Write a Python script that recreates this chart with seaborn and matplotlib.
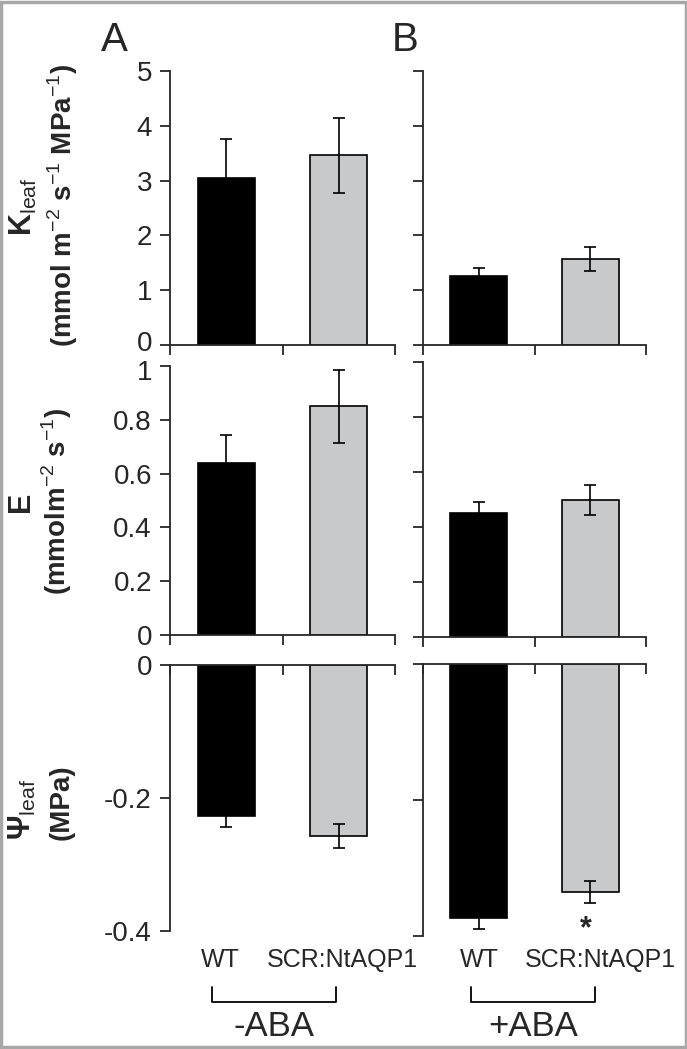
import matplotlib
matplotlib.use("Agg")
import matplotlib.pyplot as plt
import matplotlib.transforms as mtransforms
from matplotlib.patches import Rectangle
from matplotlib.lines import Line2D
import seaborn as sns

# --- data (means and error bars) ---
genotypes = ["WT", "SCR:NtAQP1"]

kleaf_noaba = [3.05, 3.46]
kleaf_noaba_err = [0.70, 0.68]
kleaf_aba = [1.26, 1.57]
kleaf_aba_err = [0.14, 0.22]

e_noaba = [0.638, 0.850]
e_noaba_err = [0.104, 0.135]
e_aba = [0.452, 0.499]
e_aba_err = [0.038, 0.054]

psi_noaba = [-0.227, -0.257]
psi_noaba_err = [0.017, 0.018]
psi_aba = [-0.373, -0.335]
psi_aba_err = [0.016, 0.016]

kleaf_ticks = [0, 1, 2, 3, 4, 5]
e_ticks = [0, 0.2, 0.4, 0.6, 0.8, 1]
psi_ticks = [0, -0.2, -0.4]

BAR_COLORS = ["#000000", "#c8c9cb"]
W, H = 687, 1049

sns.set_style("ticks")
plt.rcParams["font.family"] = ["Liberation Sans", "DejaVu Sans"]
plt.rcParams["mathtext.fontset"] = "custom"
plt.rcParams["mathtext.rm"] = "Liberation Sans"
plt.rcParams["mathtext.bf"] = "Liberation Sans:bold"
plt.rcParams["axes.unicode_minus"] = False


def px_rect(x0, y0, x1, y1):
    return [x0 / W, 1 - y1 / H, (x1 - x0) / W, (y1 - y0) / H]


def draw_panel(ax, vals, errs, ticks, ylim, show_labels, negative=False):
    sns.barplot(x=genotypes, y=vals, hue=genotypes, palette=BAR_COLORS,
                width=0.51, edgecolor="black", linewidth=1.2,
                errorbar=None, legend=False, ax=ax, zorder=2)
    ax.errorbar(range(len(vals)), vals, yerr=errs, fmt="none", ecolor="black",
                elinewidth=1.2, capsize=4.3, capthick=1.2, zorder=3)
    ax.set_xlim(-0.5, 1.5)
    ax.set_ylim(*ylim)
    ax.set_yticks(ticks)
    ax.set_yticklabels([f"{t:g}" for t in ticks] if show_labels else [])
    ax.set_xticks([-0.5, 0.5, 1.5])
    ax.set_xticklabels([])
    ax.set_xlabel("")
    ax.set_ylabel("")
    for s in ax.spines.values():
        s.set_linewidth(1.3)
    ax.spines["right"].set_visible(False)
    if negative:
        ax.spines["bottom"].set_visible(False)
        ax.xaxis.tick_top()
        ax.tick_params(axis="x", direction="in", length=7, width=1.3)
    else:
        ax.spines["top"].set_visible(False)
        ax.tick_params(axis="x", direction="out", length=7, width=1.3)
    ax.tick_params(axis="y", direction="out", length=7, width=1.3,
                   labelsize=20, pad=6)


fig = plt.figure(figsize=(W / 100, H / 100), dpi=100)

rows = [
    (kleaf_noaba, kleaf_noaba_err, kleaf_aba, kleaf_aba_err, kleaf_ticks, (0, 5), False,
     (71, 345), (71, 345)),
    (e_noaba, e_noaba_err, e_aba, e_aba_err, e_ticks, (0, 1), False,
     (366, 635), (362, 637)),
    (psi_noaba, psi_noaba_err, psi_aba, psi_aba_err, psi_ticks, (-0.4, 0), True,
     (665, 931), (664, 936)),
]

axes = []
for left_v, left_e, right_v, right_e, ticks, ylim, neg, ly, ry in rows:
    axl = fig.add_axes(px_rect(170, ly[0], 395, ly[1]))
    draw_panel(axl, left_v, left_e, ticks, ylim, True, neg)
    axr = fig.add_axes(px_rect(423, ry[0], 646, ry[1]))
    draw_panel(axr, right_v, right_e, ticks, ylim, False, neg)
    axes.append((axl, axr))

# nudge the "0" of the top row and the "1" of the middle row apart a little
up = mtransforms.ScaledTranslation(0, 4 / 100, fig.dpi_scale_trans)
down = mtransforms.ScaledTranslation(0, -4 / 100, fig.dpi_scale_trans)
lbl0 = axes[0][0].get_yticklabels()[0]
lbl0.set_transform(lbl0.get_transform() + up)
lbl1 = axes[1][0].get_yticklabels()[-1]
lbl1.set_transform(lbl1.get_transform() + down)

# significance mark
axes[2][1].text(0.96, -0.39, "*", ha="center", va="center",
                fontsize=22, fontweight="bold")

# y axis titles (two rotated lines each)
lab = dict(rotation=90, ha="center", va="center", fontweight="bold")
fig.text(23 / W, 1 - 207 / H, r"K$_{\mathrm{leaf}}$", fontsize=22, **lab)
fig.text(63 / W, 1 - 205 / H,
         r"(mmol m$^{\mathrm{-2}}$ s$^{\mathrm{-1}}$ MPa$^{\mathrm{-1}}$)", fontsize=20, **lab)
fig.text(21 / W, 1 - 502 / H, "E", fontsize=22, **lab)
fig.text(57 / W, 1 - 501 / H, r"(mmolm$^{\mathrm{-2}}$ s$^{\mathrm{-1}}$)", fontsize=20, **lab)
fig.text(22 / W, 1 - 809 / H, r"Ψ$_{\mathrm{leaf}}$", fontsize=22, **lab)
fig.text(62 / W, 1 - 802 / H, "(MPa)", fontsize=20, **lab)

# panel letters
fig.text(114 / W, 1 - 40 / H, "A", ha="center", va="center", fontsize=29)
fig.text(405 / W, 1 - 40 / H, "B", ha="center", va="center", fontsize=29)

# genotype labels and treatment brackets
for x, name in [(220, "WT"), (342, "SCR:NtAQP1"), (479, "WT"), (600, "SCR:NtAQP1")]:
    fig.text(x / W, 1 - 960 / H, name, ha="center", va="center", fontsize=18)

for x0, x1, name in [(212, 336, "-ABA"), (471, 595, "+ABA")]:
    xs = [x0 / W, x0 / W, x1 / W, x1 / W]
    ys = [1 - 987 / H, 1 - 1002 / H, 1 - 1002 / H, 1 - 987 / H]
    fig.add_artist(Line2D(xs, ys, color="black", lw=1.3, transform=fig.transFigure))
    fig.text((x0 + x1) / 2 / W, 1 - 1026 / H, name, ha="center", va="center", fontsize=25)

# grey frame around the figure
fig.patches.append(Rectangle((0.002, 0.002), 0.996, 0.996, transform=fig.transFigure,
                             fill=False, edgecolor="#a8a8a8", linewidth=2.5))

fig.savefig("out.png", dpi=100)
